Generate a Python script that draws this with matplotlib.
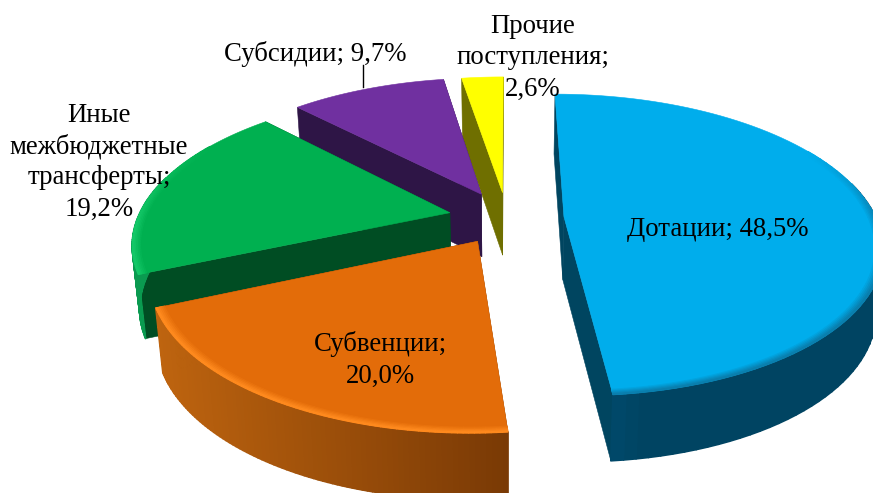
import numpy as np
import matplotlib
matplotlib.use('Agg')
import matplotlib.pyplot as plt
from matplotlib.collections import PolyCollection

# Data
categories = ['Дотации', 'Субвенции', 'Иные\nмежбюджетные\nтрансферты', 'Субсидии', 'Прочие\nпоступления']
values = [48.5, 20.0, 19.2, 9.7, 2.6]

# Colours: top, cut face, outer wall left, outer wall right, rim
top_colors = ['#00ADEC', '#E36C09', '#00B050', '#7030A0', '#FFFF00']
cut_colors = ['#004560', '#7A3A05', '#004D23', '#2E1546', '#6F6F00']
wall_left = ['#00557D', '#BE640F', '#0A9A50', '#2E1546', '#6F6F00']
wall_right = ['#004462', '#7A3A05', '#0A9A50', '#2E1546', '#6F6F00']
rim_colors = ['#0A7FAE', '#FF8A1E', '#14C868', '#7A3AAC', '#FFFF00']

# Projection parameters (pixels)
CX, CY = 507, 218
RX, RY = 312, 146
PERSP = 0.187
EXPLODE = [0.183, 0.18, 0.188, 0.188, 0.18]
DEPTH = 63


def project(u, v, lower=False):
    s = 1.0 / (1.0 + PERSP * v)
    x = CX + RX * u * s
    y = CY - RY * v * s
    if lower:
        x = CX + (x - CX) * 0.98
        y = y + DEPTH * (1 - 0.05 * v)
    return x, y


def mix(c1, c2, t):
    a = np.array(matplotlib.colors.to_rgb(c1))
    b = np.array(matplotlib.colors.to_rgb(c2))
    return tuple(a + (b - a) * t)


def quads(ax, polys, colors, lw=1.2):
    # each quad covers the seam of the one before
    pc = PolyCollection(polys, facecolors=colors, edgecolors=colors, linewidths=lw)
    ax.add_collection(pc)


fig = plt.figure(figsize=(8.73, 4.93), dpi=100)
ax = fig.add_axes([0, 0, 1, 1])
ax.set_xlim(0, 873)
ax.set_ylim(493, 0)
ax.axis('off')

# angles go clockwise from the top
edges = np.concatenate([[0], np.cumsum(values)]) * 3.6
order = [4, 3, 2, 1, 0]  # back to front

for i in order:
    a0, a1 = np.radians(edges[i]), np.radians(edges[i + 1])
    mid = (a0 + a1) / 2
    ox, oy = EXPLODE[i] * np.sin(mid), EXPLODE[i] * np.cos(mid)
    th = np.linspace(a0, a1, 90)
    ux, vy = ox + np.sin(th), oy + np.cos(th)

    # cut faces
    for a in (a0, a1):
        tip = (ox + np.sin(a), oy + np.cos(a))
        face = [project(ox, oy), project(*tip), project(*tip, lower=True), project(ox, oy, lower=True)]
        ax.fill(*zip(*face), color=cut_colors[i], lw=0.4)

    # outer wall, shaded along x
    up_x, up_y = project(ux, vy)
    lo_x, lo_y = project(ux, vy, lower=True)
    polys, cols = [], []
    for k in range(len(th) - 1):
        if vy[k] - oy > 0.25:
            continue
        polys.append([(up_x[k], up_y[k]), (up_x[k + 1], up_y[k + 1]), (lo_x[k + 1], lo_y[k + 1]), (lo_x[k], lo_y[k])])
        span = (up_x[k] - up_x.min()) / max(up_x.max() - up_x.min(), 1)
        if i == 0:
            span = min(span * 3.5, 1)
        cols.append(mix(wall_left[i], wall_right[i], span))
    if polys:
        quads(ax, polys, cols)

    # top face
    tx, ty = project(np.r_[ox, ux], np.r_[oy, vy])
    ax.fill(tx, ty, color=top_colors[i], lw=0.4)

    # soft rim along the outer edge, stronger towards the viewer
    radii = np.linspace(0.975, 1.0, 6)
    polys, cols = [], []
    for j in range(len(radii) - 1):
        r0, r1 = radii[j], radii[j + 1]
        for k in range(0, len(th) - 1):
            strength = np.clip((0.5 - np.cos(th[k])) / 0.6, 0, 1)
            if strength == 0:
                continue
            c0 = project(ox + r0 * np.sin(th[k]), oy + r0 * np.cos(th[k]))
            c1 = project(ox + r0 * np.sin(th[k + 1]), oy + r0 * np.cos(th[k + 1]))
            c2 = project(ox + r1 * np.sin(th[k + 1]), oy + r1 * np.cos(th[k + 1]))
            c3 = project(ox + r1 * np.sin(th[k]), oy + r1 * np.cos(th[k]))
            polys.append([c0, c1, c2, c3])
            cols.append(mix(top_colors[i], rim_colors[i], strength * (j + 1) / (len(radii) - 1)))
    if polys:
        quads(ax, polys, cols, lw=0.8)


def pct(i):
    return f'{values[i]:.1f}'.replace('.', ',') + '%'


font = dict(family='Liberation Serif', fontsize=19.3, color='black', ha='center', va='center', linespacing=1.32)
ax.text(718, 229, categories[0] + '; ' + pct(0), **font)
ax.text(380, 360, categories[1] + ';\n' + pct(1), **font)
ax.text(99, 162, categories[2] + ';\n' + pct(2), **font)
ax.text(315, 54, categories[3] + '; ' + pct(3), **font)
ax.text(533, 58, categories[4] + ';\n' + pct(4), **font)

# leader line for the small slice
ax.plot([363, 363], [65, 87], color='black', lw=1.0)

fig.savefig('out.png', dpi=100)
